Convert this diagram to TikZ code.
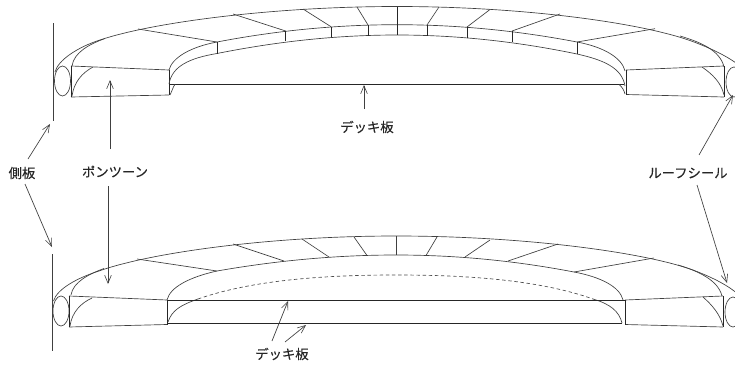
\documentclass[tikz,border=0pt]{standalone}
\usepackage{fontspec}
\setmainfont{Noto Sans CJK JP}
\newfontfamily\labfont[FakeBold=0.25]{Noto Sans CJK JP}
\usetikzlibrary{arrows.meta}
\tikzset{
  thin line/.style={draw=black!75,line width=0.5pt,line join=round},
  edge line/.style={draw=black!85,line width=0.6pt},
  plate line/.style={draw=black!75,line width=0.7pt},
  dash line/.style={draw=black!70,line width=0.5pt,dash pattern=on 2.6pt off 2pt},
  pointer/.style={draw=black!75,line width=0.5pt,-{Straight Barb[length=6pt,width=5pt,line width=0.45pt]}},
  lab/.style={font=\labfont\fontsize{10}{11}\selectfont,text=black!85,inner sep=0pt},
  curve/.style={thin line,smooth,tension=0.55}
}
\begin{document}
\begin{tikzpicture}[x=0.75pt,y=-0.75pt]
\useasboundingbox (0,0) rectangle (735,364);
\clip (0,0) rectangle (735,364);
% ---------- upper tank ----------
\draw[plate line] (53,23) -- (53,121);
\draw[thin line] (55,72) .. controls (58,60) and (78,47) .. (100,40)
  .. controls (150,23) and (270,6.5) .. (397,6.5)
  .. controls (524,6.5) and (644,23) .. (694,42)
  .. controls (715,50) and (730,58) .. (740,66);
\draw[thin line] (72,66) .. controls (74,52) and (90,44) .. (105,38.5);
\draw[thin line] (724,67) .. controls (720,50) and (700,42) .. (680,36);
\draw[thin line] (62.5,81) ellipse [x radius=8,y radius=15];
\draw[thin line] (71,66) -- (169,70);
\draw[thin line] (71,97) -- (169,95);
\draw[edge line] (71,66) -- (71,97);
\draw[edge line] (169,70) -- (169,95);
\draw[thin line] (72,96) .. controls (74,82) and (82,73) .. (93,67);
\draw[thin line] (626,70) -- (724,66);
\draw[thin line] (626,94.5) -- (724,97);
\draw[edge line] (626,70) -- (626,94.5);
\draw[edge line] (724,66) -- (724,97);
\draw[thin line] (724,95) .. controls (721,82) and (712,74) .. (702,67);
\draw[thin line] (734,82) ellipse [x radius=8,y radius=15];
\draw[thin line] (169,70) .. controls (172,58) and (190,47) .. (217,42)
  .. controls (277,30.5) and (337,24.7) .. (397,24.7)
  .. controls (457,24.7) and (517,30.5) .. (577,42)
  .. controls (604,47) and (622,58) .. (625,71);
\draw[thin line] (169,84) .. controls (172,66) and (190,58) .. (217,53.5)
  .. controls (277,41.5) and (337,35) .. (397,35)
  .. controls (457,35) and (517,41.5) .. (577,54)
  .. controls (604,60) and (622,68) .. (625,86);
\draw[edge line] (169,84.3) -- (624,84.3);
\draw[thin line] (170,95) .. controls (172,91) and (173,87) .. (175,84.3);
\draw[thin line] (625,94) .. controls (624,90) and (622,87) .. (619,84.3);
\foreach \a/\b/\c/\d in {138/29/217/42,233/14/285.7/31,303/9/331/26.7,357/7/368/25,439/7/427/25,490/9.5/467/27,560/14/512/31,655/28.7/577/42}
  \draw[thin line] (\a,\b) -- (\c,\d);
\draw[edge line] (397,6.5) -- (397,35);
\foreach \a/\b/\c in {217/42/54,285.7/31/41.3,331/26.7/37.3,368/25/35.7,427/25/35.7,467/27/37.5,512/31/42,577/42/54}
  \draw[edge line] (\a,\b) -- (\a,\c);
% ---------- lower tank ----------
\draw[plate line] (52,254) -- (52,351);
\draw[thin line] (53.5,301) .. controls (57,289) and (77,278) .. (99,271)
  .. controls (149,253) and (269,236) .. (396,236)
  .. controls (523,236) and (643,252) .. (693,270)
  .. controls (714,278) and (729,286) .. (739,295);
\draw[thin line] (71,295) .. controls (73,282) and (89,274) .. (104,268.5);
\draw[thin line] (722,296) .. controls (718,280) and (698,271) .. (678,265);
\draw[thin line] (61,311) ellipse [x radius=8,y radius=15];
\draw[thin line] (69,296) -- (167,300);
\draw[thin line] (69,327) -- (167,324.5);
\draw[edge line] (69,296) -- (69,327);
\draw[edge line] (167,300) -- (167,324.5);
\draw[thin line] (70,326) .. controls (72,312) and (81,303) .. (92,298);
\draw[thin line] (625,300) -- (723,296);
\draw[thin line] (625,324.5) -- (723,327);
\draw[edge line] (625,300) -- (625,324.5);
\draw[edge line] (723,296) -- (723,327);
\draw[thin line] (723,326) .. controls (720,314) and (712,305) .. (703,297);
\draw[thin line] (733,312) ellipse [x radius=8,y radius=15];
\draw[thin line] (167,300) .. controls (170,287) and (190,277) .. (217,271)
  .. controls (277,260.5) and (337,255) .. (396,255)
  .. controls (455,255) and (514,260.5) .. (574,272)
  .. controls (601,277) and (620,287) .. (623,300);
\draw[thin line] (168,322) .. controls (172,310) and (181,305) .. (198,299);
\draw[thin line] (593,299) .. controls (610,304) and (619,311) .. (622,323);
\draw[dash line] (198,299) .. controls (258,278) and (338,275) .. (396,275)
  .. controls (454,275) and (534,278) .. (593,299);
\draw[edge line] (167,300.3) -- (625,300.3);
\draw[edge line] (167,323.7) -- (622,323.7);
\foreach \a/\b/\c/\d in {137/259/217/271,233/244/284/261,302/239/329/257,354/237/367/255.5,396/236/396/255,437/237/426/255.5,490/240/465/257,558/244/508/261,654/258/574/272}
  \draw[thin line] (\a,\b) -- (\c,\d);
% ---------- labels ----------
\node[lab] (side) at (22,173) {側板};
\node[lab] (pontoon) at (115,171.5) {ポンツーン};
\node[lab] (deckA) at (367,127) {デッキ板};
\node[lab] (seal) at (688,173) {ルーフシール};
\node[lab] (deckB) at (282,354) {デッキ板};
% ---------- pointers ----------
\coordinate (sideA) at (28,159);   \coordinate (sideAe) at (50,124);
\coordinate (sideB) at (25,184);   \coordinate (sideBe) at (52,247);
\coordinate (ponA) at (110,149);   \coordinate (ponAe) at (110,80);
\coordinate (ponB) at (108,186);   \coordinate (ponBe) at (108,284);
\coordinate (deckAs) at (364,109); \coordinate (deckAe) at (364,85);
\coordinate (sealA) at (699,155);  \coordinate (sealAe) at (733,95);
\coordinate (sealB) at (697,185);  \coordinate (sealBe) at (727,283);
\coordinate (deckBa) at (272,341); \coordinate (deckBae) at (288,301);
\coordinate (deckBb) at (285,342); \coordinate (deckBbe) at (306,325);
\draw[pointer] (sideA) -- (sideAe);
\draw[pointer] (sideB) -- (sideBe);
\draw[pointer] (ponA) -- (ponAe);
\draw[pointer] (ponB) -- (ponBe);
\draw[pointer] (deckAs) -- (deckAe);
\draw[pointer] (sealA) -- (sealAe);
\draw[pointer] (sealB) -- (sealBe);
\draw[pointer] (deckBa) -- (deckBae);
\draw[pointer] (deckBb) -- (deckBbe);
\end{tikzpicture}
\end{document}
